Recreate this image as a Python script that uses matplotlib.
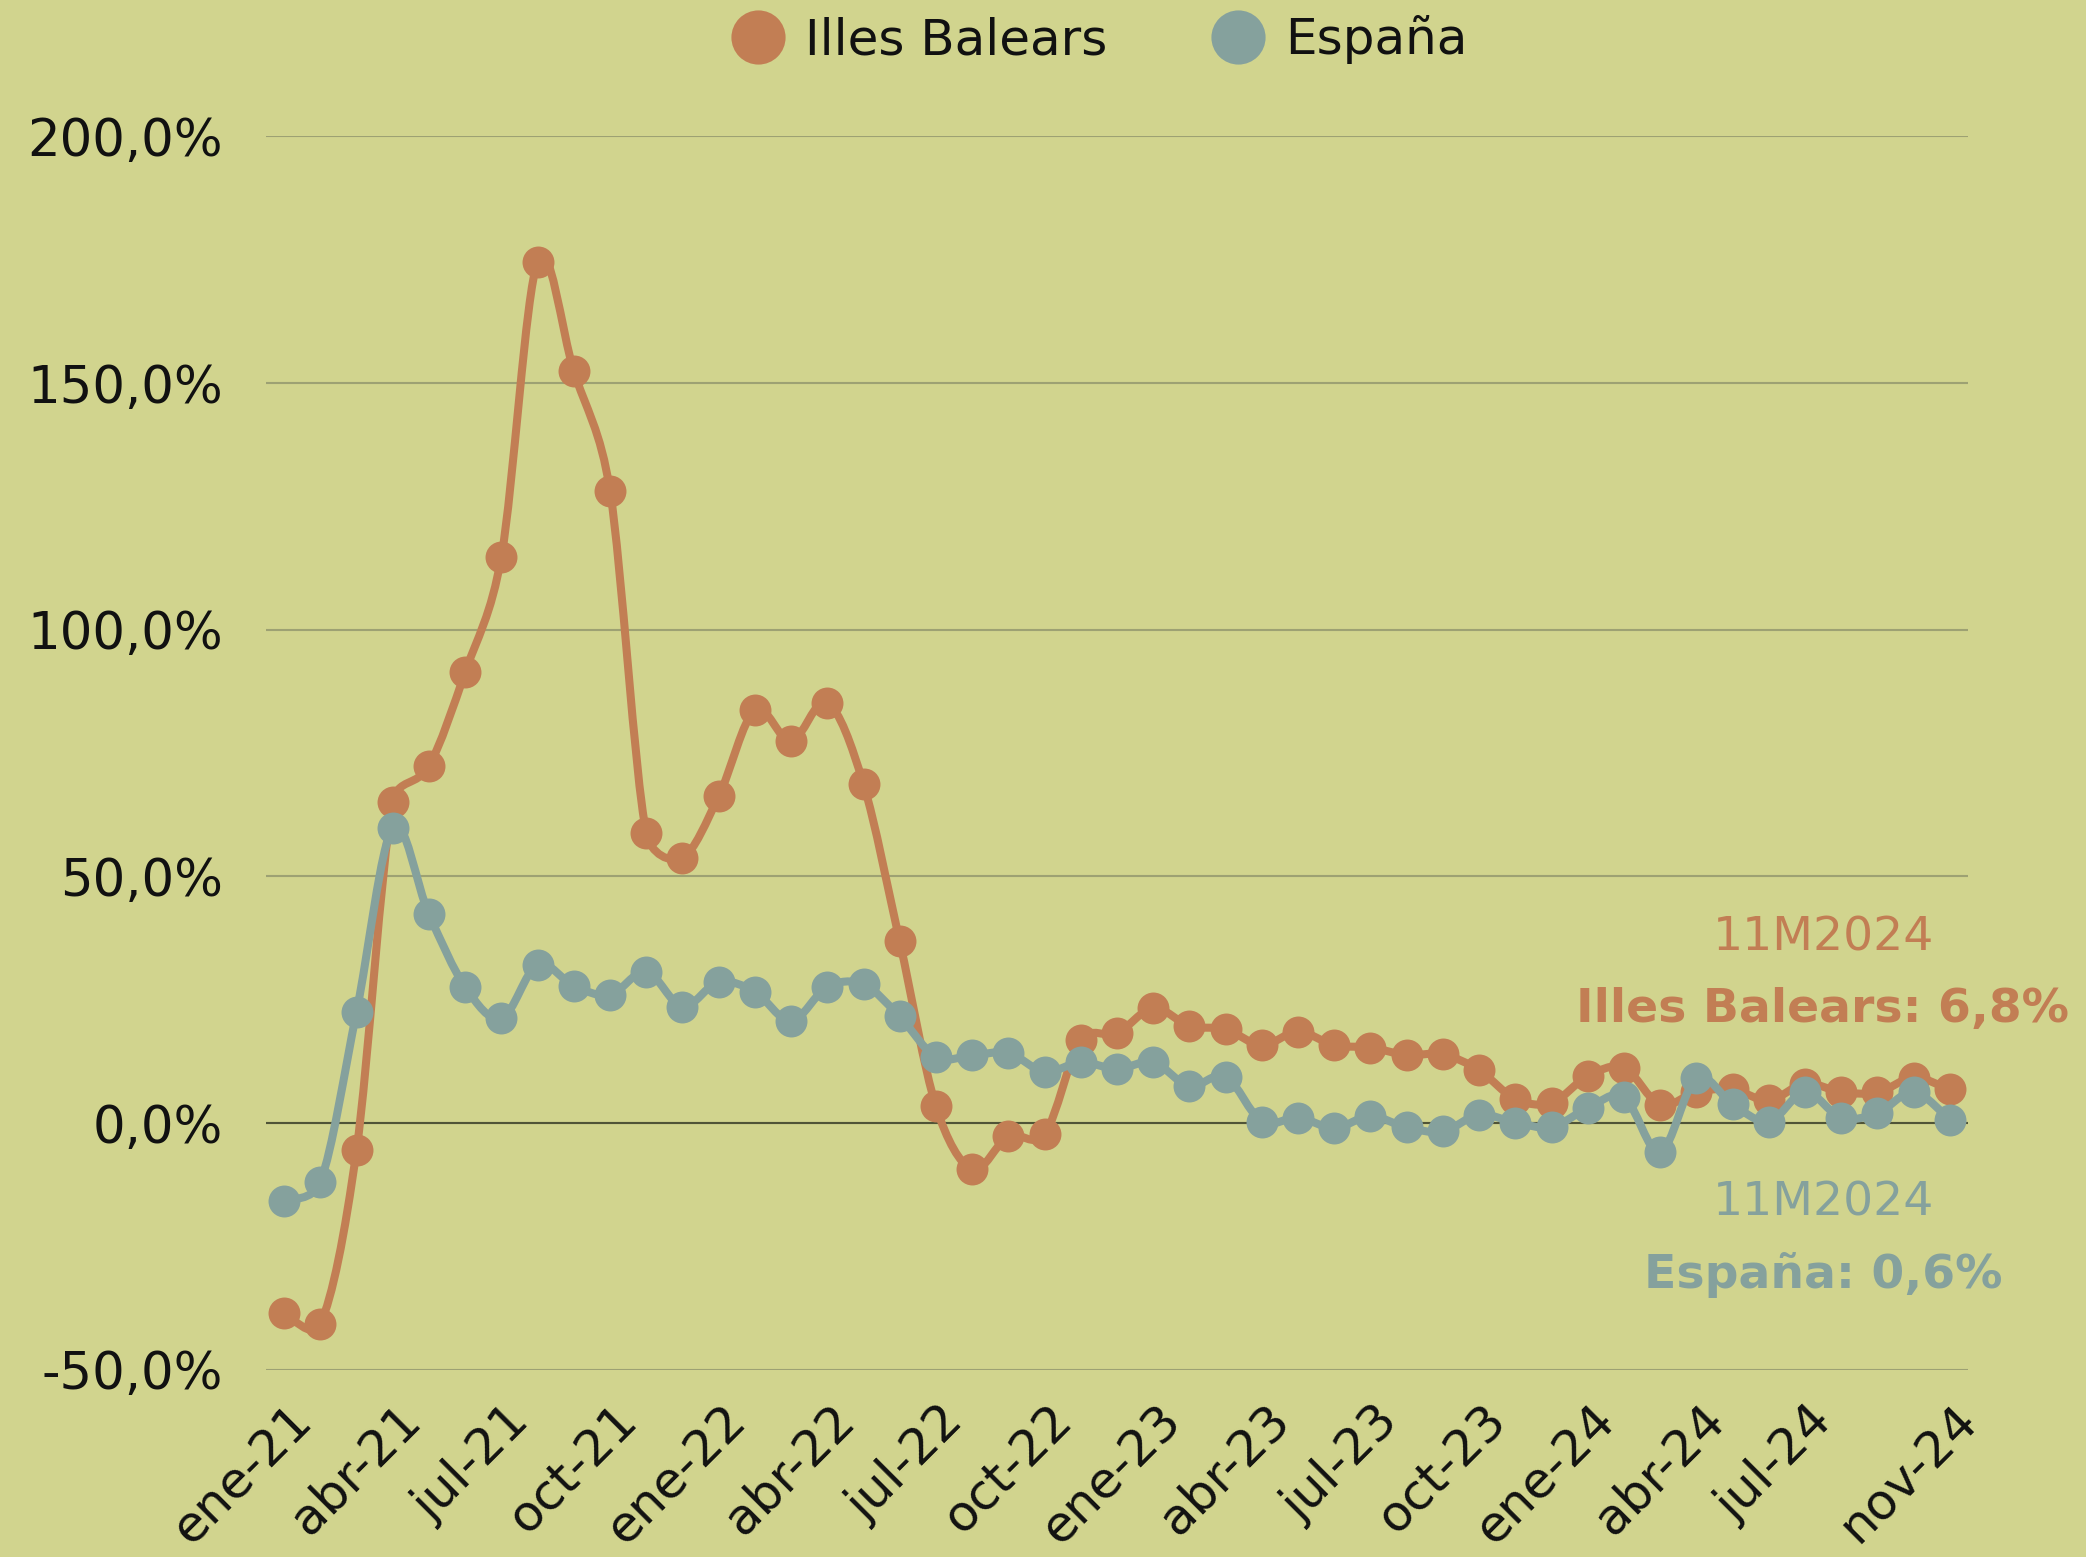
import numpy as np
import matplotlib
matplotlib.use("Agg")
import matplotlib.pyplot as plt
from matplotlib.path import Path
from matplotlib.patches import PathPatch
from matplotlib.lines import Line2D
import matplotlib.transforms as mtransforms

# ---------------- data ----------------
meses = ['ene-21', 'feb-21', 'mar-21', 'abr-21', 'may-21', 'jun-21', 'jul-21', 'ago-21', 'sep-21', 'oct-21', 'nov-21', 'dic-21',
         'ene-22', 'feb-22', 'mar-22', 'abr-22', 'may-22', 'jun-22', 'jul-22', 'ago-22', 'sep-22', 'oct-22', 'nov-22', 'dic-22',
         'ene-23', 'feb-23', 'mar-23', 'abr-23', 'may-23', 'jun-23', 'jul-23', 'ago-23', 'sep-23', 'oct-23', 'nov-23', 'dic-23',
         'ene-24', 'feb-24', 'mar-24', 'abr-24', 'may-24', 'jun-24', 'jul-24', 'ago-24', 'sep-24', 'oct-24', 'nov-24']

illes_balears = [-38.6, -40.8, -5.5, 65.0, 72.4, 91.4, 114.8, 174.6, 152.4, 128.2, 58.8, 53.8,
                 66.2, 83.7, 77.4, 85.2, 68.7, 36.8, 3.4, -9.4, -2.7, -2.3, 16.8, 18.2,
                 23.3, 19.7, 19.0, 15.8, 18.5, 15.8, 15.3, 13.8, 13.9, 10.7, 4.9, 4.1,
                 9.5, 11.2, 3.7, 6.3, 6.8, 4.6, 8.0, 6.3, 6.2, 9.2, 6.8]

espana = [-15.9, -12.0, 22.5, 59.8, 42.3, 27.6, 21.2, 32.1, 27.8, 26.0, 30.7, 23.6,
          28.6, 26.6, 20.7, 27.6, 28.1, 21.6, 13.4, 13.7, 14.2, 10.4, 12.3, 11.0,
          12.3, 7.5, 9.4, 0.3, 1.1, -1.0, 1.4, -0.9, -1.7, 1.7, 0.1, -0.8,
          3.0, 5.3, -5.9, 9.1, 3.8, 0.3, 6.3, 1.1, 2.0, 6.3, 0.6]

tick_labels = ['ene-21', 'abr-21', 'jul-21', 'oct-21', 'ene-22', 'abr-22', 'jul-22', 'oct-22',
               'ene-23', 'abr-23', 'jul-23', 'oct-23', 'ene-24', 'abr-24', 'jul-24', 'nov-24']
y_ticks = [-50, 0, 50, 100, 150, 200]

series_names = ['Illes Balears', 'España']
ultimo_periodo = '11M2024'

# ---------------- style ----------------
BG = '#D1D48E'
ORANGE = '#C27E54'
GREY = '#85A19D'
GRID = '#9DA173'
ZERO = '#505437'
FONT = 'DejaVu Sans'

plt.rcParams['font.family'] = [FONT]

W, H = 2086, 1557
fig = plt.figure(figsize=(W / 100, H / 100), dpi=100, facecolor=BG)
ax = fig.add_axes([266 / W, 1 - 1369.7 / H, (1968 - 266) / W, (1369.7 - 136.4) / H])
ax.set_facecolor(BG)

x = np.arange(len(meses))
ax.set_xlim(-0.5, len(meses) - 0.5)
ax.set_ylim(-50, 200)


def smooth_path(xs, ys, f=1 / 6):
    """Spreadsheet-style Bezier smoothing computed in display space:
    control vector = f*(P[i+1]-P[i-1]), limited to half the segment length."""
    pts = ax.transData.transform(np.column_stack([xs, ys]).astype(float))
    n = len(pts)
    verts = [pts[0]]
    codes = [Path.MOVETO]
    for i in range(n - 1):
        p0 = pts[max(i - 1, 0)]
        p1 = pts[i]
        p2 = pts[i + 1]
        p3 = pts[min(i + 2, n - 1)]
        d12 = np.hypot(*(p2 - p1))
        d02 = np.hypot(*(p2 - p0))
        d13 = np.hypot(*(p3 - p1))
        f1 = f if d02 * f < d12 / 2 else (d12 / (2 * d02) if d02 > 0 else 0)
        f2 = f if d13 * f < d12 / 2 else (d12 / (2 * d13) if d13 > 0 else 0)
        c1 = p1 + (p2 - p0) * f1
        c2 = p2 - (p3 - p1) * f2
        verts += [c1, c2, p2]
        codes += [Path.CURVE4] * 3
    inv = ax.transData.inverted()
    return Path(inv.transform(np.array(verts)), codes)


LW = 5.8
MS = 23

for vals, col, z in [(illes_balears, ORANGE, 3), (espana, GREY, 5)]:
    patch = PathPatch(smooth_path(x, vals), facecolor='none', edgecolor=col, lw=LW,
                      capstyle='round', joinstyle='round', zorder=z)
    ax.add_patch(patch)
    ax.plot(x, vals, 'o', color=col, markersize=MS, markeredgewidth=0, zorder=z + 0.5)

# grid
ax.set_yticks(y_ticks)
ax.set_yticklabels([f"{v:.1f}".replace('.', ',') + '%' for v in y_ticks])
ax.yaxis.grid(True, color=GRID, lw=1.5, zorder=1)
ax.axhline(0, color=ZERO, lw=1.5, zorder=2)
ax.set_axisbelow(True)
for s in ax.spines.values():
    s.set_visible(False)
ax.tick_params(axis='y', length=0, pad=31, labelsize=37, labelcolor='#111111')

ax.set_xticks([meses.index(t) for t in tick_labels])
ax.set_xticklabels(tick_labels, rotation=45, ha='right', va='top')
ax.tick_params(axis='x', length=0, pad=19, labelsize=36, labelcolor='#111111')
offset = mtransforms.ScaledTranslation(37 / 100, 0, fig.dpi_scale_trans)
for lbl in ax.get_xticklabels():
    lbl.set_transform(lbl.get_transform() + offset)

# legend
handles = [Line2D([], [], ls='none', marker='o', color=ORANGE, markersize=39, markeredgewidth=0),
           Line2D([], [], ls='none', marker='o', color=GREY, markersize=39, markeredgewidth=0)]
fig.legend(handles, series_names, loc='center', bbox_to_anchor=(1100 / W, 1 - 40 / H),
           ncol=2, frameon=False, fontsize=36, handlelength=1.0, handletextpad=0.45,
           columnspacing=2.1, borderpad=0, labelcolor='#111111')

# annotations
cx = 1823 / W
fig.text(cx, 1 - 950 / H, ultimo_periodo, color=ORANGE, fontsize=34, ha='center', va='baseline')
fig.text(cx, 1 - 1021.7 / H, f"{series_names[0]}: {illes_balears[-1]:.1f}%".replace('.', ','),
         color=ORANGE, fontsize=34, fontweight='bold', ha='center', va='baseline')
fig.text(cx, 1 - 1215 / H, ultimo_periodo, color=GREY, fontsize=34, ha='center', va='baseline')
fig.text(cx, 1 - 1287.8 / H, f"{series_names[1]}: {espana[-1]:.1f}%".replace('.', ','),
         color=GREY, fontsize=34, fontweight='bold', ha='center', va='baseline')

fig.savefig('out.png', dpi=100, facecolor=BG)
